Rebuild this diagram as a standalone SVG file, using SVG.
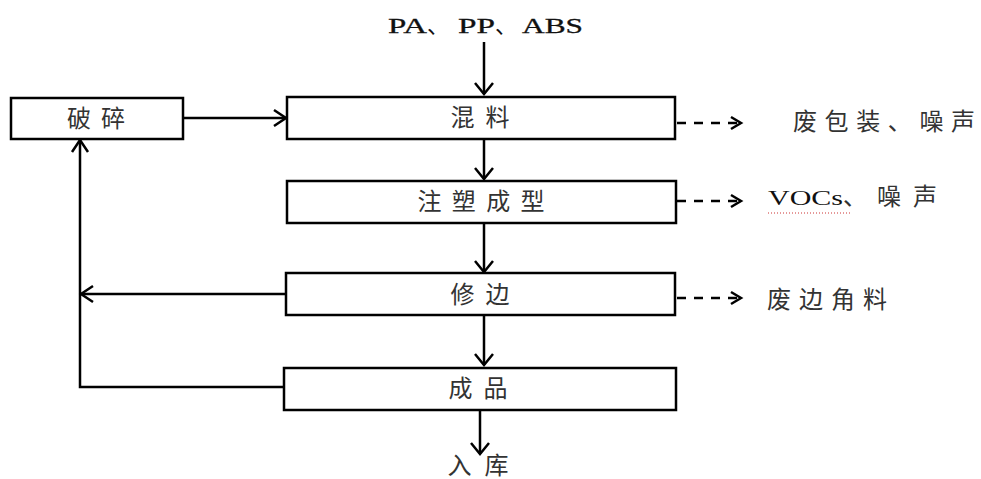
<svg xmlns="http://www.w3.org/2000/svg" width="981" height="479" viewBox="0 0 981 479">
<style>
.box{fill:#fff;stroke:#000;stroke-width:2.5}
.ln{fill:none;stroke:#000;stroke-width:2.5}
.dl{fill:none;stroke:#000;stroke-width:2.5;stroke-dasharray:9 8}
.ah{fill:none;stroke:#000;stroke-width:2.5}
.t{font-family:"Liberation Serif","Noto Sans CJK SC",serif;font-size:24px;fill:#333;text-anchor:middle;dominant-baseline:central}
.s{font-family:"Liberation Serif","Noto Sans CJK SC",serif;font-size:24px;fill:#333;dominant-baseline:central}
.l{font-family:"Liberation Serif","Noto Sans CJK SC",serif;fill:#111}
</style>
<rect width="981" height="479" fill="#fff"/>
<g id="connectors">
<path class="ln" d="M484 42 V94"/><path class="ah" d="M475 83 L484 94 L493 83"/>
<path class="ln" d="M183 118 H286"/><path class="ah" d="M274 110 L286 118 L274 126"/>
<path class="ln" d="M484 139 V179"/><path class="ah" d="M475 168 L484 179 L493 168"/>
<path class="ln" d="M484 223 V272"/><path class="ah" d="M475 261 L484 272 L493 261"/>
<path class="ln" d="M484 316 V365"/><path class="ah" d="M475 354 L484 365 L493 354"/>
<path class="ln" d="M480 411 V454"/><path class="ah" d="M471 443 L480 454 L489 443"/>
<path class="ln" d="M286 294 H81"/><path class="ah" d="M93 286 L81 294 L93 302"/>
<path class="ln" d="M285 387 H80 V140"/><path class="ah" d="M72 152 L80 140 L88 152"/>
<path class="dl" d="M677 123 H740"/><path class="ah" d="M731 117 L741 123 L731 129"/>
<path class="dl" d="M677 201 H740"/><path class="ah" d="M731 195 L741 201 L731 207"/>
<path class="dl" d="M677 298 H740"/><path class="ah" d="M731 292 L741 298 L731 304"/>
</g>
<g id="n-input"><text class="l" y="33" font-size="22" stroke="#111" stroke-width="0.3"><tspan x="388" textLength="39" lengthAdjust="spacingAndGlyphs">PA</tspan><tspan x="427" stroke="none">、</tspan><tspan x="458" textLength="37" lengthAdjust="spacingAndGlyphs">PP</tspan><tspan x="495" stroke="none">、</tspan><tspan x="522" textLength="61" lengthAdjust="spacingAndGlyphs">ABS</tspan></text></g>
<g id="n-posui"><rect class="box" x="11" y="98" width="172" height="41"/><text class="t" x="96" y="119" textLength="58">破碎</text></g>
<g id="n-hunliao"><rect class="box" x="287" y="97" width="388" height="42"/><text class="t" x="480" y="118" textLength="59">混料</text></g>
<g id="n-zhusu"><rect class="box" x="287" y="181" width="389" height="42"/><text class="t" x="481" y="202" textLength="127">注塑成型</text></g>
<g id="n-xiubian"><rect class="box" x="286" y="273" width="389" height="42"/><text class="t" x="480" y="295" textLength="59">修边</text></g>
<g id="n-chengpin"><rect class="box" x="284" y="368" width="392" height="42"/><text class="t" x="478" y="389" textLength="59">成品</text></g>
<g id="n-ruku"><text class="t" x="478" y="466" textLength="61">入库</text></g>
<g id="n-out1"><text class="s" x="793" y="122" textLength="182">废包装、噪声</text></g>
<g id="n-out2"><text class="l" y="205" font-size="21" fill="#222"><tspan x="768" textLength="75" lengthAdjust="spacingAndGlyphs">VOCs</tspan><tspan x="843" font-size="24" fill="#333">、</tspan><tspan x="877" font-size="24" fill="#333" textLength="60">噪声</tspan></text><path d="M768 213 H852" stroke="#c33" stroke-width="1" stroke-dasharray="1 2"/></g>
<g id="n-out3"><text class="s" x="767" y="300" textLength="120">废边角料</text></g>
</svg>
